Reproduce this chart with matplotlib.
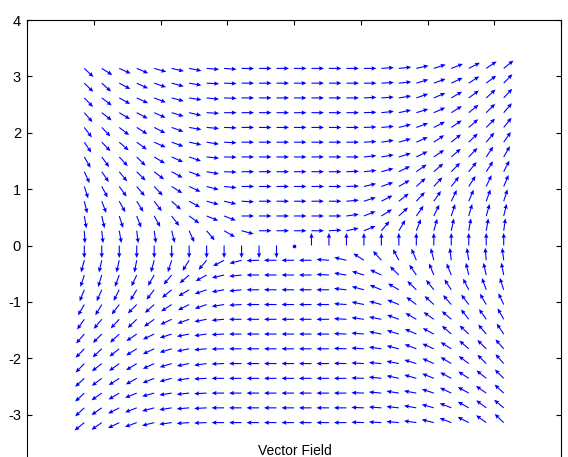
import numpy as np
import matplotlib
matplotlib.use("Agg")
import matplotlib.pyplot as plt

plt.rcParams["font.family"] = ["Liberation Sans", "DejaVu Sans"]
plt.rcParams["axes.unicode_minus"] = False

# grid of arrow tails: -pi..pi in steps of pi/12 (25 points each way)
GRID = np.linspace(-np.pi, np.pi, 25)

# arrow directions as seen on screen, degrees counter-clockwise from +x
# row 0 is the top row (y = pi), column 0 the left column (x = -pi)
# nan = zero vector (drawn as a dot)
nan = np.nan
ANGLES = [
    [-43, -32, -24, -23, -16, -13, -11, -5, -4, -1, 0, 0, 0, 0, 0, 0, 0, 4, 6, 13, 18, 21, 27, 34, 39],
    [-44, -42, -28, -25, -19, -15, -10, -3, -2, 0, 0, 0, 0, 0, 0, 0, 0, 3, 6, 17, 20, 25, 33, 37, 46],
    [-46, -37, -29, -25, -21, -15, -9, -6, -2, 0, 0, 0, 0, 0, 0, 0, 3, 4, 9, 19, 23, 30, 36, 42, 47],
    [-49, -38, -31, -28, -24, -17, -13, -3, 0, 0, 0, 0, 0, 0, 0, 0, 2, 6, 12, 17, 24, 32, 39, 45, 49],
    [-53, -46, -38, -32, -27, -20, -10, -5, -2, 0, 0, 0, 0, 0, 0, 0, 2, 5, 14, 20, 27, 34, 41, 45, 51],
    [-56, -46, -41, -36, -24, -20, -12, -9, -3, 0, 0, 0, 0, 0, 0, 0, 3, 9, 16, 24, 34, 39, 44, 50, 55],
    [-60, -54, -47, -45, -31, -24, -19, -6, -1, 0, 0, 0, 0, 0, 0, 0, 6, 10, 17, 26, 34, 41, 46, 56, 60],
    [-65, -56, -51, -45, -38, -29, -21, -10, -2, 0, 0, 0, 0, 0, 0, 2, 6, 15, 26, 35, 41, 45, 51, 57, 63],
    [-72, -62, -54, -50, -47, -32, -25, -15, -6, 0, 0, 0, 0, 0, 0, 2, 13, 19, 30, 42, 47, 52, 57, 65, 67],
    [-76, -69, -61, -58, -53, -42, -29, -15, -13, -3, 0, 0, 0, 0, 0, 5, 18, 27, 38, 47, 55, 64, 67, 70, 72],
    [-80, -77, -72, -69, -61, -53, -36, -22, -21, 0, 0, 0, 0, 0, 0, 8, 22, 32, 43, 55, 64, 72, 74, 74, 76],
    [-87, -84, -80, -83, -82, -76, -66, -50, -30, -15, 0, 0, 0, 0, 3, 12, 22, 50, 59, 69, 74, 78, 80, 80, 82],
    [-90, -90, -90, -90, -90, -90, -90, -90, -90, -90, -90, -90, nan, 90, 90, 90, 90, 90, 90, 90, 90, 90, 90, 90, 90],
    [255, 257, 257, 259, 255, 252, 238, 230, 208, 195, 182, 180, 180, 180, 176, 167, 147, 132, 118, 113, 104, 97, 99, 95, 97],
    [252, 253, 250, 245, 240, 230, 221, 209, 193, 186, 180, 180, 180, 180, 177, 171, 163, 155, 136, 124, 112, 112, 103, 103, 101],
    [248, 246, 243, 239, 232, 220, 211, 199, 190, 186, 180, 180, 180, 180, 180, 174, 165, 158, 150, 136, 128, 123, 117, 110, 108],
    [240, 239, 233, 225, 222, 213, 207, 199, 189, 183, 180, 180, 180, 180, 180, 176, 168, 165, 158, 143, 137, 131, 127, 120, 115],
    [235, 230, 227, 224, 216, 205, 200, 191, 185, 180, 180, 180, 180, 180, 180, 177, 172, 169, 160, 150, 145, 139, 128, 125, 119],
    [229, 225, 223, 214, 205, 198, 191, 188, 183, 180, 180, 180, 180, 180, 180, 178, 175, 169, 163, 156, 152, 138, 137, 130, 124],
    [226, 223, 218, 212, 205, 197, 191, 185, 181, 180, 180, 180, 180, 180, 180, 178, 176, 172, 166, 159, 156, 148, 139, 135, 131],
    [226, 218, 216, 212, 205, 197, 191, 188, 182, 180, 180, 180, 180, 180, 180, 179, 177, 175, 169, 163, 156, 149, 143, 135, 131],
    [223, 217, 213, 209, 202, 195, 189, 183, 180, 180, 180, 180, 180, 180, 180, 180, 178, 174, 168, 164, 158, 152, 147, 141, 135],
    [223, 215, 211, 202, 195, 189, 186, 183, 180, 180, 180, 180, 180, 180, 180, 180, 178, 175, 171, 170, 162, 155, 151, 145, 137],
    [223, 215, 207, 201, 195, 189, 185, 183, 180, 180, 180, 180, 180, 180, 180, 180, 178, 176, 174, 170, 164, 158, 151, 143, 140],
    [219, 215, 206, 200, 194, 188, 184, 182, 180, 180, 180, 180, 180, 180, 180, 180, 178, 177, 175, 172, 166, 159, 153, 144, 136],
]

Y_TICKS = [-4, -3, -2, -1, 0, 1, 2, 3, 4]
X_TICKS = [-4, -3, -2, -1, 0, 1, 2, 3, 4]
LABEL = "Vector Field"

X, Y = np.meshgrid(GRID, GRID[::-1])
ang = np.radians(np.array(ANGLES, dtype=float))
zero = np.isnan(ang)
ang = np.nan_to_num(ang)
U = np.where(zero, 0.0, np.cos(ang))
V = np.where(zero, 0.0, np.sin(ang))

fig = plt.figure(figsize=(5.68, 4.57), dpi=100)
ax = fig.add_axes([27 / 568, 1 - 471 / 457, 534 / 568, 451 / 457])

ax.quiver(X[~zero], Y[~zero], U[~zero], V[~zero], color="#0000ff",
          angles="uv", scale_units="dots", scale=1 / 12.5, units="dots",
          width=1.1, headwidth=4, headlength=4.5, headaxislength=4)
# zero-length vectors show up as a dot
ax.plot(X[zero], Y[zero], "o", color="#0000ff", markersize=2.6, mew=0)

ax.set_xlim(-4, 4)
ax.set_ylim(-4, 4)
ax.set_xticks(X_TICKS)
ax.set_yticks(Y_TICKS)
ax.set_xticklabels([])
# the -4 label sits below the visible part of the figure
ax.set_yticklabels(["" if t == -4 else str(t) for t in Y_TICKS], fontsize=10.5)
ax.tick_params(direction="in", top=True, right=True, length=3.6,
               width=0.8, pad=4.3)
for s in ax.spines.values():
    s.set_linewidth(0.8)

fig.text(295 / 568, 1 - 444 / 457, LABEL, ha="center", va="top", fontsize=10)

fig.savefig("out.png", dpi=100)
